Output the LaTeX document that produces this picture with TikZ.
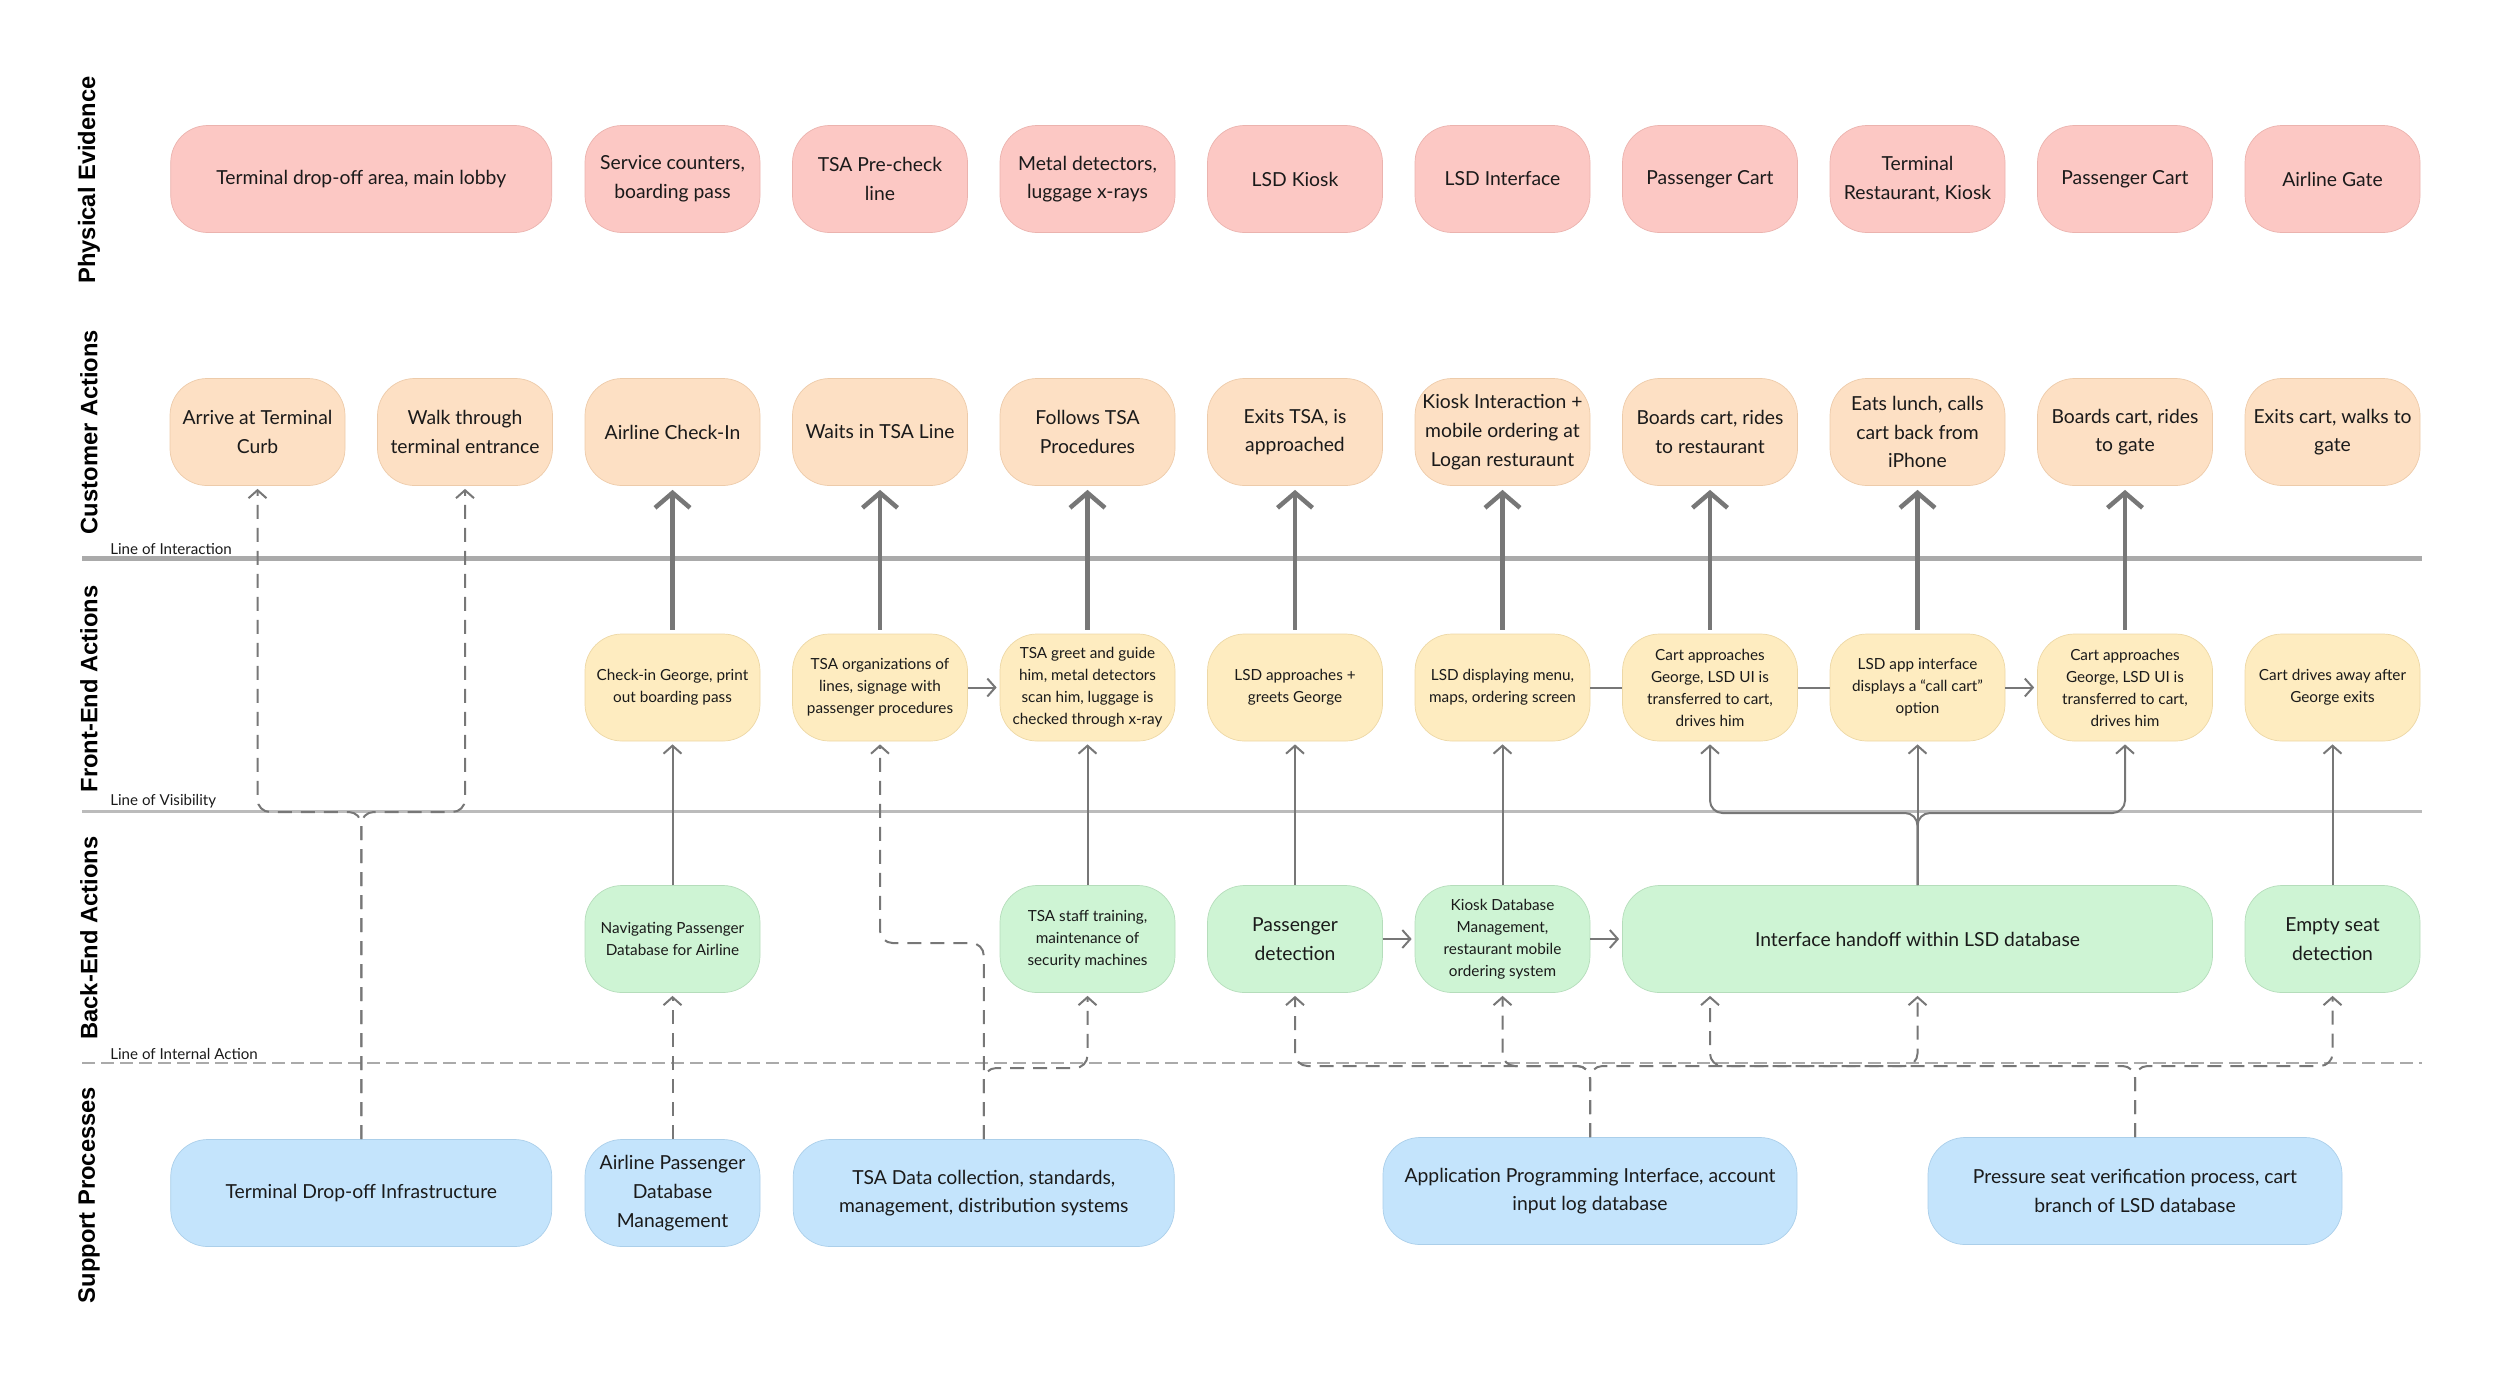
\documentclass[tikz,border=0pt]{standalone}
\usepackage{fontspec}
\setmainfont{Lato}
\newfontfamily\rowfamily{Liberation Sans}
\usetikzlibrary{arrows.meta,positioning,shapes}

\definecolor{peFill}{HTML}{FCC8C4}
\definecolor{peLine}{HTML}{EBB3AE}
\definecolor{caFill}{HTML}{FDE0C4}
\definecolor{caLine}{HTML}{EDCBAA}
\definecolor{feFill}{HTML}{FEECC0}
\definecolor{feLine}{HTML}{EDD8A6}
\definecolor{beFill}{HTML}{CEF4D4}
\definecolor{beLine}{HTML}{B5DDBB}
\definecolor{spFill}{HTML}{C4E4FC}
\definecolor{spLine}{HTML}{ABCFEA}
\definecolor{txt}{HTML}{1A1A1A}
\definecolor{arr}{HTML}{777777}
\definecolor{lineA}{HTML}{AAAAAA}
\definecolor{lineB}{HTML}{BBBBBB}

\newcommand{\bigtxt}{\fontsize{11}{16.3}\selectfont}
\newcommand{\smalltxt}{\fontsize{8.7}{12.5}\selectfont}
\newcommand{\rowtxt}{\rowfamily\bfseries\fontsize{13.5}{16}\selectfont}
\newcommand{\linetxt}{\fontsize{8.6}{10}\selectfont}

\tikzset{
  box/.style={rounded corners=7.4mm, minimum width=35mm, minimum height=21.4mm, align=center, inner sep=1mm, line width=0.4pt, text=txt},
  pe/.style={box, fill=peFill, draw=peLine, font=\bigtxt},
  ca/.style={box, fill=caFill, draw=caLine, font=\bigtxt},
  fe/.style={box, fill=feFill, draw=feLine, font=\smalltxt},
  be/.style={box, fill=beFill, draw=beLine, font=\smalltxt},
  sp/.style={box, fill=spFill, draw=spLine, font=\bigtxt},
  rowlabel/.style={rotate=90, font=\rowtxt, text=black},
  lbl/.style={anchor=south west, font=\linetxt, inner sep=0.4mm, text=txt},
  upthick/.style={->, draw=arr, line width=0.9mm, >={Straight Barb[length=3mm,width=7mm]}, shorten >=0.8mm, shorten <=0.8mm},
  upthin/.style={->, draw=arr, line width=0.4mm, >={Straight Barb[length=1.6mm,width=3.6mm]}, shorten >=0.6mm, rounded corners=2.5mm},
  updash/.style={upthin, dash pattern=on 2.8mm off 1.8mm},
  link/.style={draw=arr, line width=0.4mm}
}

\begin{document}
\begin{tikzpicture}[x=0.2mm, y=-0.2mm]
\useasboundingbox (0,0) rectangle (2500,1381);

%============ lines between the rows
\draw[line width=1mm, draw=lineA] (82,558) -- (2422,558);
\draw[line width=0.6mm, draw=lineB] (82,811) -- (2422,811);
\draw[line width=0.5mm, draw=lineA, dash pattern=on 2.6mm off 1.2mm] (82,1063) -- (2422,1063);
\node[lbl] (LI) at (108,557) {Line of Interaction};
\node[lbl] (LV) at (108,810) {Line of Visibility};
\node[lbl] (LN) at (108,1062) {Line of Internal Action};

%============ row titles
\node[rowlabel] (RPE) at (89,180) {Physical Evidence};
\node[rowlabel] (RCA) at (89,432) {Customer Actions};
\node[rowlabel] (RFE) at (89,689) {Front-End Actions};
\node[rowlabel] (RBE) at (89,938) {Back-End Actions};
\node[rowlabel] (RSP) at (89,1195) {Support Processes};

%============ physical evidence
\node[pe, minimum width=76.2mm] (PE1) at (361.25,179) {Terminal drop-off area, main lobby};
\node[pe] (PE2) at (672.5,179) {Service counters,\\boarding pass};
\node[pe] (PE3) at (880,179) {TSA Pre-check\\line};
\node[pe] (PE4) at (1087.5,179) {Metal detectors,\\luggage x-rays};
\node[pe] (PE5) at (1295,179) {LSD Kiosk};
\node[pe] (PE6) at (1502.5,179) {LSD Interface};
\node[pe] (PE7) at (1710,179) {Passenger Cart};
\node[pe] (PE8) at (1917.5,179) {Terminal\\Restaurant, Kiosk};
\node[pe] (PE9) at (2125,179) {Passenger Cart};
\node[pe] (PE10) at (2332.5,179) {Airline Gate};

%============ customer actions
\node[ca] (CA1) at (257.5,432) {Arrive at Terminal\\Curb};
\node[ca] (CA2) at (465,432) {Walk through\\terminal entrance};
\node[ca] (CA3) at (672.5,432) {Airline Check-In};
\node[ca] (CA4) at (880,432) {Waits in TSA Line};
\node[ca] (CA5) at (1087.5,432) {Follows TSA\\Procedures};
\node[ca] (CA6) at (1295,432) {Exits TSA, is\\approached};
\node[ca] (CA7) at (1502.5,432) {Kiosk Interaction +\\mobile ordering at\\Logan resturaunt};
\node[ca] (CA8) at (1710,432) {Boards cart, rides\\to restaurant};
\node[ca] (CA9) at (1917.5,432) {Eats lunch, calls\\cart back from\\iPhone};
\node[ca] (CA10) at (2125,432) {Boards cart, rides\\to gate};
\node[ca] (CA11) at (2332.5,432) {Exits cart, walks to\\gate};

%============ front-end actions
\node[fe] (FE1) at (672.5,687.5) {Check-in George, print\\out boarding pass};
\node[fe] (FE2) at (880,687.5) {TSA organizations of\\lines, signage with\\passenger procedures};
\node[fe] (FE3) at (1087.5,687.5) {TSA greet and guide\\him, metal detectors\\scan him, luggage is\\checked through x-ray};
\node[fe] (FE4) at (1295,687.5) {LSD approaches +\\greets George};
\node[fe] (FE5) at (1502.5,687.5) {LSD displaying menu,\\maps, ordering screen};
\node[fe] (FE6) at (1710,687.5) {Cart approaches\\George, LSD UI is\\transferred to cart,\\drives him};
\node[fe] (FE7) at (1917.5,687.5) {LSD app interface\\displays a “call cart”\\option};
\node[fe] (FE8) at (2125,687.5) {Cart approaches\\George, LSD UI is\\transferred to cart,\\drives him};
\node[fe] (FE9) at (2332.5,687.5) {Cart drives away after\\George exits};

%============ back-end actions
\node[be] (BE1) at (672.5,939) {Navigating Passenger\\Database for Airline};
\node[be] (BE2) at (1087.5,939) {TSA staff training,\\maintenance of\\security machines};
\node[be, font=\bigtxt] (BE3) at (1295,939) {Passenger\\detection};
\node[be] (BE4) at (1502.5,939) {Kiosk Database\\Management,\\restaurant mobile\\ordering system};
\node[be, font=\bigtxt, minimum width=118mm] (BE5) at (1917.5,939) {Interface handoff within LSD database};
\node[be, font=\bigtxt] (BE6) at (2332.5,939) {Empty seat\\detection};

%============ support processes
\node[sp, minimum width=76.2mm] (SP1) at (361.25,1193) {Terminal Drop-off Infrastructure};
\node[sp] (SP2) at (672.5,1193) {Airline Passenger\\Database\\Management};
\node[sp, minimum width=76.2mm] (SP3) at (983.75,1193) {TSA Data collection, standards,\\management, distribution systems};
\node[sp, minimum width=82.8mm] (SP4) at (1590,1191) {Application Programming Interface, account\\input log database};
\node[sp, minimum width=82.8mm] (SP5) at (2135,1191) {Pressure seat verification process, cart\\branch of LSD database};

\coordinate (H1) at (FE6 |- BE5.south);

%============ front-end to customer
\draw[upthick] (FE1) -- (CA3);
\draw[upthick] (FE2) -- (CA4);
\draw[upthick] (FE3) -- (CA5);
\draw[upthick] (FE4) -- (CA6);
\draw[upthick] (FE5) -- (CA7);
\draw[upthick] (FE6) -- (CA8);
\draw[upthick] (FE7) -- (CA9);
\draw[upthick] (FE8) -- (CA10);

%============ along the front-end row
\draw[upthin] (FE2) -- (FE3);
\draw[link] (FE5) -- (FE6);
\draw[link] (FE6) -- (FE7);
\draw[upthin] (FE7) -- (FE8);

%============ back-end to front-end
\draw[upthin] (BE1) -- (FE1);
\draw[upthin] (BE2) -- (FE3);
\draw[upthin] (BE3) -- (FE4);
\draw[upthin] (BE4) -- (FE5);
\draw[upthin] (BE6) -- (FE9);
\draw[upthin] (BE5) -- (FE7);
\draw[upthin] (BE5.north) -- (BE5.north |- 0,813) -| (FE6.south);
\draw[upthin] (BE5.north) -- (BE5.north |- 0,813) -| (FE8.south);
\draw[upthin] (BE3) -- (BE4);
\draw[upthin] (BE4) -- (BE5);

%============ support
\draw[updash] (SP1.north) -- (SP1.north |- 0,812) -| (CA1.south);
\draw[updash] (SP1.north) -- (SP1.north |- 0,812) -| (CA2.south);
\draw[updash] (SP2) -- (BE1);
\draw[updash] (SP3.north) -- (SP3.north |- 0,943) -| (FE2.south);
\draw[updash] (SP3.north) -- (SP3.north |- 0,1068) -| (BE2.south);
\draw[updash] (SP4.north) -- (SP4.north |- 0,1066) -| (BE3.south);
\draw[updash] (SP4.north) -- (SP4.north |- 0,1066) -| (BE4.south);
\draw[updash] (SP4.north) -- (SP4.north |- 0,1066) -| (BE5.south);
\draw[updash] (SP5.north) -- (SP5.north |- 0,1066) -| (H1);
\draw[updash] (SP5.north) -- (SP5.north |- 0,1066) -| (BE6.south);

\end{tikzpicture}
\end{document}
